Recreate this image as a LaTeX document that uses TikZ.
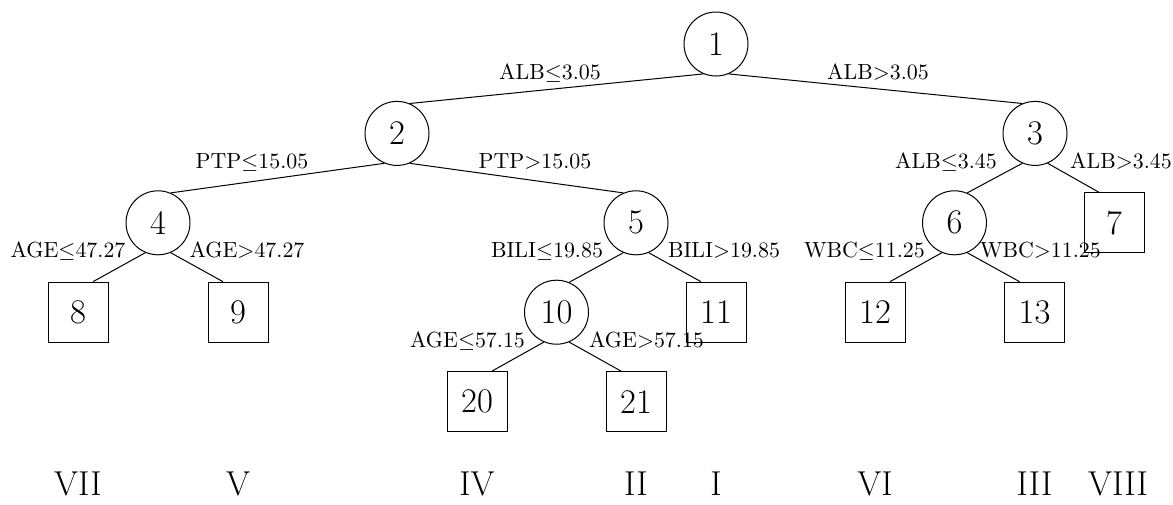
\documentclass[tikz,border=0pt]{standalone}
\usetikzlibrary{calc}
\begin{document}
\begin{tikzpicture}[x=0.5pt,y=-0.5pt,line width=0.5pt,
  inode/.style={circle,draw,minimum size=32pt,inner sep=0pt,font=\fontsize{17.28}{20}\selectfont},
  leaf/.style={rectangle,draw,minimum size=30pt,inner sep=0pt,font=\fontsize{17.28}{20}\selectfont},
  lab/.style={anchor=base,inner sep=0pt,font=\fontsize{10.95}{13}\selectfont},
  roman/.style={anchor=base,inner sep=0pt,font=\fontsize{17.28}{20}\selectfont}]
\useasboundingbox (0,0) rectangle (1173,504);
% internal nodes
\node[inode] (n1) at (716,44) {1};
\node[inode] (n2) at (397,133.4) {2};
\node[inode] (n3) at (1035,133.4) {3};
\node[inode] (n4) at (158,222.8) {4};
\node[inode] (n5) at (636,222.8) {5};
\node[inode] (n6) at (954.5,222.8) {6};
\node[inode] (n10) at (556.5,312.2) {10};
% leaves
\node[leaf] (n7) at (1114,222.8) {7};
\node[leaf] (n8) at (78,312.2) {8};
\node[leaf] (n9) at (238,312.2) {9};
\node[leaf] (n11) at (716,312.2) {11};
\node[leaf] (n12) at (875,312.2) {12};
\node[leaf] (n13) at (1034.6,312.2) {13};
\node[leaf] (n20) at (477,401.6) {20};
\node[leaf] (n21) at (636,401.6) {21};
% edges
\draw (n1.247) -- (n2.67);
\draw (n1.293) -- (n3.113);
\draw (n2.247) -- (n4.67);
\draw (n2.293) -- (n5.113);
\draw (n3.247) -- (n6.67);
\draw (n3.293) -- ([xshift=-7.5pt]n7.north);
\draw (n4.247) -- ([xshift=7.5pt]n8.north);
\draw (n4.293) -- ([xshift=-7.5pt]n9.north);
\draw (n5.247) -- (n10.67);
\draw (n5.293) -- ([xshift=-7.5pt]n11.north);
\draw (n6.247) -- ([xshift=7.5pt]n12.north);
\draw (n6.293) -- ([xshift=-7.5pt]n13.north);
\draw (n10.247) -- ([xshift=7.5pt]n20.north);
\draw (n10.293) -- ([xshift=-7.5pt]n21.north);
% edge labels
\node[lab] (l12) at ($(n1)+(-166,35)$) {ALB$\leq$3.05};
\node[lab] (l13) at ($(n1)+(162,35)$) {ALB$>$3.05};
\node[lab] (l24) at ($(n2)+(-145,34.6)$) {PTP$\leq$15.05};
\node[lab] (l25) at ($(n2)+(138,34.6)$) {PTP$>$15.05};
\node[lab] (l36) at ($(n3)+(-89,34.6)$) {ALB$\leq$3.45};
\node[lab] (l37) at ($(n3)+(86,34.6)$) {ALB$>$3.45};
\node[lab] (l48) at ($(n4)+(-90,34.4)$) {AGE$\leq$47.27};
\node[lab] (l49) at ($(n4)+(89,34.4)$) {AGE$>$47.27};
\node[lab] (l510) at ($(n5)+(-89,34.4)$) {BILI$\leq$19.85};
\node[lab] (l511) at ($(n5)+(88,34.4)$) {BILI$>$19.85};
\node[lab] (l612) at ($(n6)+(-90,34.4)$) {WBC$\leq$11.25};
\node[lab] (l613) at ($(n6)+(86,34.4)$) {WBC$>$11.25};
\node[lab] (l1020) at ($(n10)+(-89,34.8)$) {AGE$\leq$57.15};
\node[lab] (l1021) at ($(n10)+(90,34.8)$) {AGE$>$57.15};
% class labels
\node[roman] (r8) at (78,495) {VII};
\node[roman] (r9) at (238,495) {V};
\node[roman] (r20) at (477,495) {IV};
\node[roman] (r21) at (636,495) {II};
\node[roman] (r11) at (716,495) {I};
\node[roman] (r12) at (875,495) {VI};
\node[roman] (r13) at (1034.6,495) {III};
\node[roman] (r7) at (1118,495) {VIII};
\end{tikzpicture}
\end{document}
